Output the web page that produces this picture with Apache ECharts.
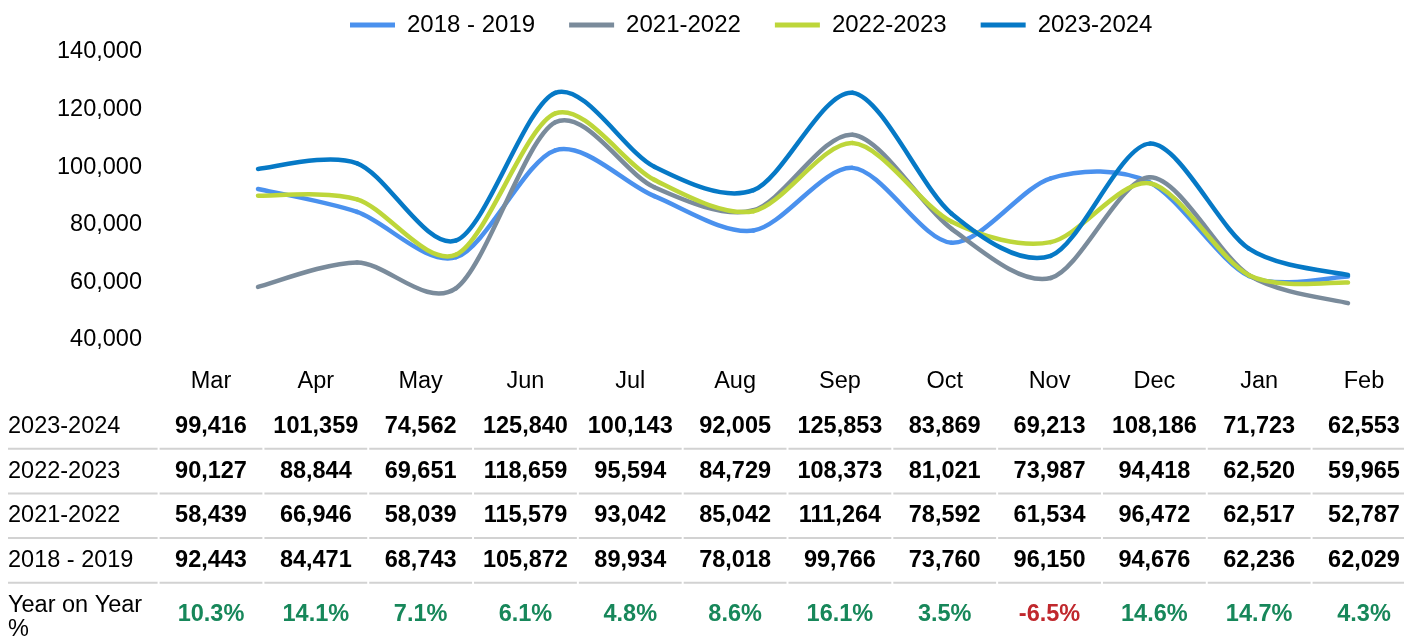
<!DOCTYPE html>
<html>
<head>
<meta charset="utf-8">
<script src="https://cdn.jsdelivr.net/npm/echarts@6/dist/echarts.min.js"></script>
<style>html,body{margin:0;padding:0;background:#fff}#c{width:1406px;height:641px}</style>
</head>
<body>
<div id="c"></div>
<script>
const months = ['Mar','Apr','May','Jun','Jul','Aug','Sep','Oct','Nov','Dec','Jan','Feb'];
const s2018 = [92443,84471,68743,105872,89934,78018,99766,73760,96150,94676,62236,62029];
const s2021 = [58439,66946,58039,115579,93042,85042,111264,78592,61534,96472,62517,52787];
const s2022 = [90127,88844,69651,118659,95594,84729,108373,81021,73987,94418,62520,59965];
const s2023 = [99416,101359,74562,125840,100143,92005,125853,83869,69213,108186,71723,62553];
const yoy = [10.3,14.1,7.1,6.1,4.8,8.6,16.1,3.5,-6.5,14.6,14.7,4.3];
const seriesNames = ['2018 - 2019','2021-2022','2022-2023','2023-2024'];
const rowNames = ['2023-2024','2022-2023','2021-2022','2018 - 2019','Year on Year %'];
const yTicks = {min:40000, max:140000, interval:20000};

const colors = ['#4a91ee','#7a8b9b','#bdd63a','#0679c6'];
const FONT = 'Liberation Sans, Arial, sans-serif';
const FS = 23.5;
const TENSION = 0.15; // control point = P +/- (next - prev) * TENSION
const fmt = v => v.toLocaleString('en-US');

const lineData = [s2018, s2021, s2022, s2023];
const tableRows = [s2023, s2022, s2021, s2018];

const series = [];
// smooth spline lines (Excel-like) drawn through the category/value scales
lineData.forEach((arr,si) => {
  series.push({
    name: seriesNames[si], type:'custom', xAxisIndex:0, yAxisIndex:0, clip:false,
    itemStyle:{color:colors[si]}, z: 2+si, silent:true,
    data: arr.map((v,i) => [i, v]),
    renderItem: (params, api) => {
      const i = params.dataIndex, n = arr.length;
      if (i >= n-1) return null;
      const P = k => api.coord([k, arr[Math.max(0, Math.min(n-1, k))]]);
      const p0 = P(i-1 < 0 ? 0 : i-1), p1 = P(i), p2 = P(i+1), p3 = P(i+2 > n-1 ? n-1 : i+2);
      const cp1 = [p1[0] + (p2[0]-p0[0])*TENSION, p1[1] + (p2[1]-p0[1])*TENSION];
      const cp2 = [p2[0] - (p3[0]-p1[0])*TENSION, p2[1] - (p3[1]-p1[1])*TENSION];
      return {type:'bezierCurve',
        shape:{x1:p1[0], y1:p1[1], cpx1:cp1[0], cpy1:cp1[1], cpx2:cp2[0], cpy2:cp2[1], x2:p2[0], y2:p2[1]},
        style:{stroke:colors[si], lineWidth:4.5, fill:null, lineCap:'round'}};
    }
  });
});
tableRows.forEach((d,r) => {
  series.push({
    type:'scatter', xAxisIndex:1, yAxisIndex:1, symbolSize:1,
    itemStyle:{color:'rgba(0,0,0,0)', opacity:1}, silent:true,
    data: d.map((v,c) => [c, r, v]),
    label:{show:true, position:'inside', formatter: p => fmt(p.value[2]),
      color:'#000', fontWeight:'bold', fontSize:FS, fontFamily:FONT}
  });
});
series.push({
  type:'scatter', xAxisIndex:1, yAxisIndex:1, symbolSize:1,
  itemStyle:{color:'rgba(0,0,0,0)', opacity:1}, silent:true,
  data: yoy.map((v,c) => [c, 4, v]),
  label:{show:true, position:'inside', offset:[0,9],
    formatter: p => (p.value[2] < 0 ? '{n|' : '{p|') + p.value[2].toFixed(1) + '%}',
    rich:{
      p:{color:'#17875a', fontWeight:'bold', fontSize:FS, fontFamily:FONT},
      n:{color:'#c0282d', fontWeight:'bold', fontSize:FS, fontFamily:FONT}
    }}
});
// table separators
const sepData = [];
for (let r=0;r<4;r++) for (let c=0;c<months.length;c++) sepData.push([c,r]);
series.push({
  type:'custom', xAxisIndex:1, yAxisIndex:1, clip:false, silent:true,
  data: sepData,
  renderItem: (params, api) => {
    const c = api.value(0), r = api.value(1);
    const p0 = api.coord([0, 0]);
    const p1 = api.coord([1, 1]);
    const cw = p1[0]-p0[0], rh = p1[1]-p0[1];
    const p = api.coord([c, r]);
    const y = p[1] + rh/2;
    const x1 = p[0]-cw/2+1, x2 = Math.min(p[0]+cw/2-1, 1404);
    const st = {stroke:'#d2d2d2', lineWidth:2};
    const children = [{type:'line', shape:{x1:x1, y1:y, x2:x2, y2:y}, style:st}];
    if (c === 0) children.push({type:'line', shape:{x1:8, y1:y, x2:x1-2, y2:y}, style:st});
    return {type:'group', children};
  }
});

const chart = echarts.init(document.getElementById('c'), null, {renderer:'canvas'});
chart.setOption({
  animation:false,
  backgroundColor:'#fff',
  textStyle:{fontFamily:FONT},
  legend:{
    top:8, left:345,
    data: seriesNames.map((n,i) => ({name:n, itemStyle:{color:colors[i]}})),
    icon:'rect', itemWidth:45, itemHeight:5, itemGap:34,
    textStyle:{fontSize:24, color:'#000', fontFamily:FONT, padding:[0,0,0,7]}
  },
  grid:[
    {left:258, right:58, top:52, height:288},
    {left:211, right:42, top:404, height:225}
  ],
  xAxis:[
    {type:'category', gridIndex:0, data:months, boundaryGap:false, show:false},
    {type:'category', gridIndex:1, data:months, boundaryGap:false, position:'top',
      axisLine:{show:false}, axisTick:{show:false}, splitLine:{show:false},
      axisLabel:{margin:10, interval:0, fontSize:FS, color:'#000', fontFamily:FONT}}
  ],
  yAxis:[
    {type:'value', gridIndex:0, min:yTicks.min, max:yTicks.max, interval:yTicks.interval,
      axisLine:{show:false}, axisTick:{show:false}, splitLine:{show:false},
      axisLabel:{margin:116, fontSize:FS, color:'#000', fontFamily:FONT, formatter: v => fmt(v)}},
    {type:'category', gridIndex:1, data:rowNames, inverse:true,
      axisLine:{show:false}, axisTick:{show:false}, splitLine:{show:false},
      axisLabel:{margin:203, interval:0, align:'left', fontSize:FS, color:'#000', fontFamily:FONT, lineHeight:24,
        formatter: v => v === 'Year on Year %' ? '\nYear on Year\n%' : v}}
  ],
  series
});
</script>
</body>
</html>
